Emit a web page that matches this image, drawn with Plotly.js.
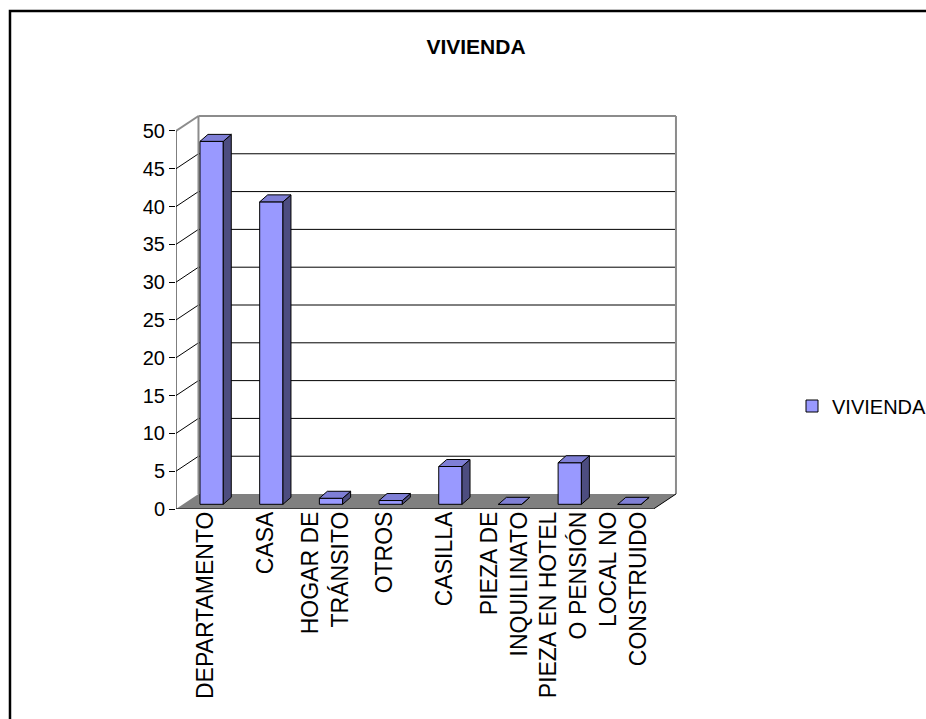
<!DOCTYPE html>
<html>
<head>
<meta charset="utf-8">
<script src="https://cdn.plot.ly/plotly-3.0.1.min.js"></script>
<style>
  html, body { margin: 0; padding: 0; background: #ffffff; }
  #chart { width: 926px; height: 719px; }
</style>
</head>
<body>
<div id="chart"></div>
<script>
// ---- data ----
const chartTitle = 'VIVIENDA';
const seriesName = 'VIVIENDA';
const categories = [
  'DEPARTAMENTO',
  'CASA',
  'HOGAR DE<br>TRÁNSITO',
  'OTROS',
  'CASILLA',
  'PIEZA DE<br>INQUILINATO',
  'PIEZA EN HOTEL<br>O PENSIÓN',
  'LOCAL NO<br>CONSTRUIDO'
];
const values = [48, 40, 0.8, 0.5, 5, 0, 5.5, 0];
const yTickVals = [0, 5, 10, 15, 20, 25, 30, 35, 40, 45, 50];

// ---- 3D look constants (in axis units) ----
const yMax = 50;
const wallDX = 0.3766;   // depth of the back wall, x units
const wallDY = 1.98;     // depth of the back wall, y units
const barOffset = -0.098; // front face left edge relative to category centre
const barWidth = 0.39;
const barBase = 0.62;    // front face lifted by its depth position
const barDX = 0.134;     // bar depth, x units
const barDY = 0.925;     // bar depth, y units

const FONT = 'Liberation Sans, Arial, sans-serif';
const positions = categories.map((c, i) => i);
const xLo = -0.5, xHi = categories.length - 0.5;

// front faces via bar trace
const frontTrace = {
  type: 'bar',
  name: seriesName,
  x: positions,
  y: values,
  base: barBase,
  offset: barOffset,
  width: barWidth,
  marker: { color: '#9999FF', line: { color: '#000000', width: 1 } },
  hoverinfo: 'skip',
  showlegend: true
};

// side & top faces built from the values
const sideX = [], sideY = [], topX = [], topY = [];
positions.forEach((p, i) => {
  const v = values[i];
  const xl = p + barOffset, xr = xl + barWidth;
  const b = barBase, t = barBase + v;
  sideX.push(xr, xr + barDX, xr + barDX, xr, xr, null);
  sideY.push(b, b + barDY, t + barDY, t, b, null);
  topX.push(xl, xr, xr + barDX, xl + barDX, xl, null);
  topY.push(t, t, t + barDY, t + barDY, t, null);
});
const sideTrace = {
  type: 'scatter', mode: 'lines', x: sideX, y: sideY, fill: 'toself',
  fillcolor: '#4D4D80', line: { color: '#000000', width: 1 },
  hoverinfo: 'skip', showlegend: false
};
const topTrace = {
  type: 'scatter', mode: 'lines', x: topX, y: topY, fill: 'toself',
  fillcolor: '#7F7FD6', line: { color: '#000000', width: 1 },
  hoverinfo: 'skip', showlegend: false
};

// ---- frame shapes ----
const shapes = [];
const gray = '#8C8C8C';
// floor
shapes.push({
  type: 'path', layer: 'below', xref: 'x', yref: 'y',
  path: `M ${xLo},0 L ${xHi},0 L ${xHi + wallDX},${wallDY} L ${xLo + wallDX},${wallDY} Z`,
  fillcolor: '#808080', line: { width: 0 }
});
// gridlines on back wall and left wall
yTickVals.forEach(v => {
  if (v === 0 || v === yMax) return;
  shapes.push({ type: 'line', layer: 'below', xref: 'x', yref: 'y',
    x0: xLo + wallDX, y0: v + wallDY, x1: xHi + wallDX, y1: v + wallDY,
    line: { color: '#000000', width: 1 } });
  shapes.push({ type: 'line', layer: 'below', xref: 'x', yref: 'y',
    x0: xLo, y0: v, x1: xLo + wallDX, y1: v + wallDY,
    line: { color: '#000000', width: 1 } });
});
// wall edges (gray)
[
  [xLo + wallDX, wallDY, xLo + wallDX, yMax + wallDY],
  [xLo + wallDX, yMax + wallDY, xHi + wallDX, yMax + wallDY],
  [xHi + wallDX, wallDY, xHi + wallDX, yMax + wallDY],
  [xLo, yMax, xLo + wallDX, yMax + wallDY]
].forEach(s => shapes.push({ type: 'line', layer: 'below', xref: 'x', yref: 'y',
  x0: s[0], y0: s[1], x1: s[2], y1: s[3], line: { color: gray, width: 2 } }));
// axis lines
shapes.push({ type: 'line', layer: 'below', xref: 'x', yref: 'y',
  x0: xLo, y0: 0, x1: xLo, y1: yMax, line: { color: '#000000', width: 1 } });
shapes.push({ type: 'line', layer: 'below', xref: 'x', yref: 'y',
  x0: xLo, y0: 0, x1: xHi, y1: 0, line: { color: '#000000', width: 1 } });
shapes.push({ type: 'line', layer: 'below', xref: 'x', yref: 'y',
  x0: xHi, y0: 0, x1: xHi + wallDX, y1: wallDY, line: { color: '#000000', width: 1 } });
// category tick marks
for (let k = 0; k <= categories.length; k++) {
  shapes.push({ type: 'line', layer: 'above', xref: 'x', yref: 'y',
    ysizemode: 'pixel', yanchor: 0,
    x0: xLo + k, x1: xLo + k, y0: 0, y1: -8,
    line: { color: '#000000', width: 1 } });
}
// outer border of the chart area
shapes.push({ type: 'rect', layer: 'below', xref: 'paper', yref: 'paper',
  x0: -0.3307, x1: 1.7, y0: -0.7, y1: 1.2608,
  line: { color: '#000000', width: 2.5 }, fillcolor: 'rgba(0,0,0,0)' });

const layout = {
  width: 926, height: 719, autosize: false,
  margin: { l: 176, r: 248, t: 114, b: 210, pad: 0, autoexpand: false },
  paper_bgcolor: '#ffffff', plot_bgcolor: 'rgba(0,0,0,0)',
  font: { family: FONT, color: '#000000' },
  title: {
    text: '<b>' + chartTitle + '</b>',
    font: { family: FONT, size: 21, color: '#000000' },
    x: 476 / 926, xref: 'container', xanchor: 'center',
    y: 1 - 47 / 719, yref: 'container', yanchor: 'middle'
  },
  xaxis: {
    range: [xLo, xHi + wallDX + 0.034],
    tickvals: positions, ticktext: categories,
    tickangle: -90, ticks: '', showgrid: false, zeroline: false, showline: false,
    tickfont: { family: FONT, size: 23, color: '#000000' },
    ticklabelstandoff: -3,
    automargin: false,
    fixedrange: true
  },
  yaxis: {
    range: [0, yMax + wallDY + 0.26],
    tickvals: yTickVals, ticktext: yTickVals.map(String),
    ticks: 'outside', ticklen: 6, tickcolor: '#000000', tickwidth: 1,
    showgrid: false, zeroline: false, showline: false,
    tickfont: { family: FONT, size: 20, color: '#000000' },
    automargin: false,
    fixedrange: true
  },
  showlegend: true,
  legend: {
    xref: 'container', yref: 'container',
    x: 792 / 926, xanchor: 'left',
    y: 1 - 406 / 719, yanchor: 'middle',
    font: { family: FONT, size: 20, color: '#000000' },
    bgcolor: 'rgba(0,0,0,0)', borderwidth: 0
  },
  shapes: shapes,
  bargap: 0
};

Plotly.newPlot('chart', [frontTrace, sideTrace, topTrace], layout, { displayModeBar: false, staticPlot: true });
</script>
</body>
</html>
